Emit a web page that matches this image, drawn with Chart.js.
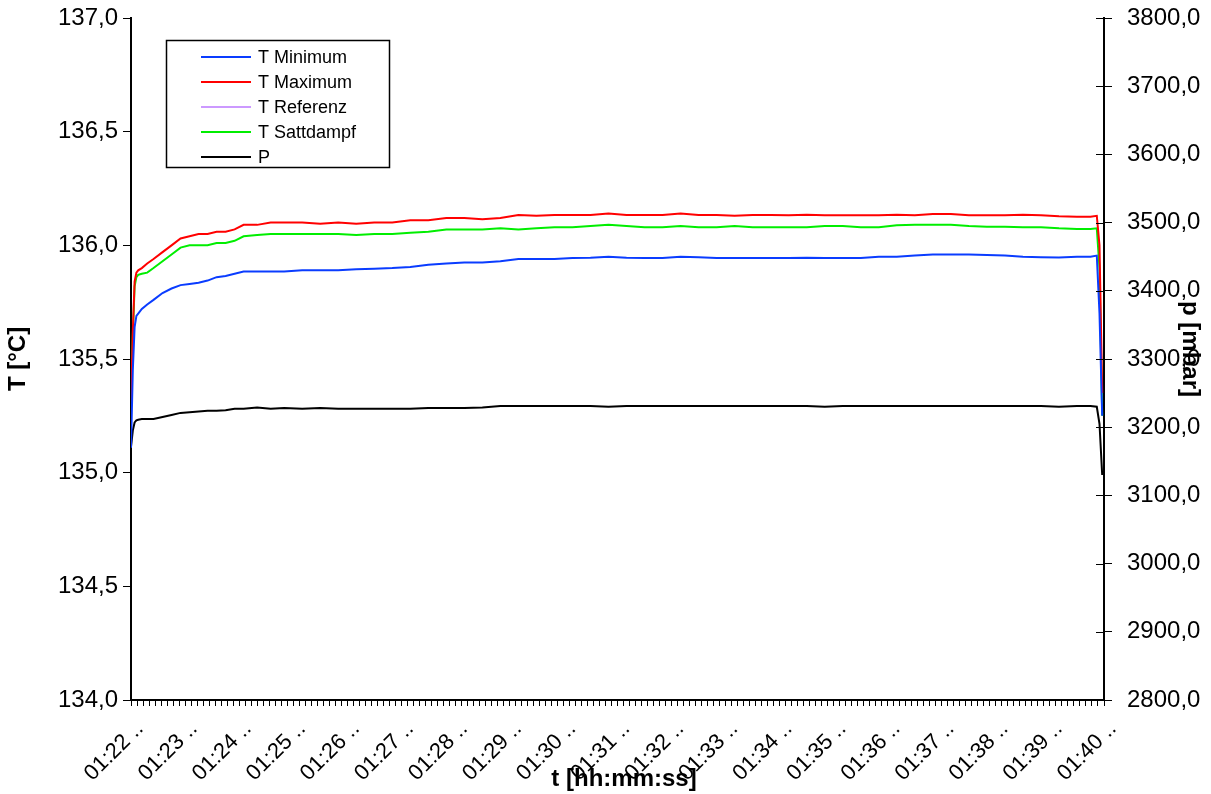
<!DOCTYPE html>
<html>
<head>
<meta charset="utf-8">
<title>Temperaturverlauf</title>
<script src="https://cdn.jsdelivr.net/npm/chart.js@4.4.1/dist/chart.umd.min.js"></script>
<style>
  html, body { margin: 0; padding: 0; background: #fff; }
  canvas { display: block; }
</style>
</head>
<body>
<canvas id="tempChart" width="1211" height="794"></canvas>
<script>
// seconds after 01:22:00
const seconds = [0, 2, 4, 6, 8, 12, 18, 25, 35, 45, 55, 65, 75, 85, 95, 105, 115, 125, 140, 155,
  170, 190, 210, 230, 250, 270, 290, 310, 330, 350, 370, 390, 410, 430, 450, 470, 490, 510, 530, 550,
  570, 590, 610, 630, 650, 670, 690, 710, 730, 750, 770, 790, 810, 830, 850, 870, 890, 910, 930, 950,
  970, 990, 1010, 1030, 1050, 1065, 1072, 1075, 1078];

const tMinimum = [135.11, 135.45, 135.64, 135.69, 135.70, 135.72, 135.74, 135.76, 135.79, 135.81,
  135.825, 135.83, 135.835, 135.845, 135.86, 135.865, 135.875, 135.885, 135.885, 135.885,
  135.885, 135.89, 135.89, 135.89, 135.895, 135.897, 135.90, 135.905, 135.915, 135.92,
  135.925, 135.925, 135.93, 135.94, 135.94, 135.94, 135.944, 135.945, 135.95, 135.945,
  135.944, 135.944, 135.95, 135.948, 135.944, 135.944, 135.944, 135.944, 135.944, 135.945,
  135.944, 135.944, 135.944, 135.95, 135.95, 135.955, 135.96, 135.96, 135.96, 135.958,
  135.955, 135.95, 135.948, 135.947, 135.95, 135.95, 135.955, 135.70, 135.25];

const tMaximum = [135.31, 135.62, 135.84, 135.88, 135.89, 135.90, 135.92, 135.94, 135.97, 136.00,
  136.03, 136.04, 136.05, 136.05, 136.06, 136.06, 136.07, 136.09, 136.09, 136.10,
  136.10, 136.10, 136.095, 136.10, 136.095, 136.10, 136.10, 136.11, 136.11, 136.12,
  136.12, 136.115, 136.12, 136.133, 136.13, 136.133, 136.133, 136.133, 136.14, 136.133,
  136.133, 136.133, 136.14, 136.133, 136.133, 136.13, 136.133, 136.133, 136.132, 136.135,
  136.132, 136.132, 136.132, 136.132, 136.135, 136.132, 136.138, 136.138, 136.132, 136.132,
  136.132, 136.135, 136.132, 136.128, 136.126, 136.126, 136.13, 136.00, 135.35];

const tReferenz = [];

const tSattdampf = [135.33, 135.60, 135.82, 135.86, 135.87, 135.875, 135.88, 135.90, 135.93, 135.96,
  135.99, 136.00, 136.00, 136.00, 136.01, 136.01, 136.02, 136.04, 136.045, 136.05,
  136.05, 136.05, 136.05, 136.05, 136.045, 136.05, 136.05, 136.055, 136.06, 136.07,
  136.07, 136.07, 136.075, 136.07, 136.075, 136.08, 136.08, 136.085, 136.09, 136.085,
  136.08, 136.08, 136.085, 136.08, 136.08, 136.085, 136.08, 136.08, 136.08, 136.08,
  136.085, 136.085, 136.08, 136.08, 136.088, 136.09, 136.09, 136.09, 136.085, 136.082,
  136.082, 136.08, 136.08, 136.075, 136.072, 136.072, 136.075, 135.90, 135.25];

const pressure = [3171, 3195, 3207, 3210, 3211, 3212, 3212, 3212, 3215, 3218,
  3221, 3222, 3223, 3224, 3224, 3225, 3227, 3227, 3229, 3227,
  3228, 3227, 3228, 3227, 3227, 3227, 3227, 3227, 3228, 3228,
  3228, 3229, 3231, 3231, 3231, 3231, 3231, 3231, 3230, 3231,
  3231, 3231, 3231, 3231, 3231, 3231, 3231, 3231, 3231, 3231,
  3230, 3231, 3231, 3231, 3231, 3231, 3231, 3231, 3231, 3231,
  3231, 3231, 3231, 3230, 3231, 3231, 3230, 3205, 3130];

const minuteLabels = ['01:22', '01:23', '01:24', '01:25', '01:26', '01:27', '01:28', '01:29', '01:30',
  '01:31', '01:32', '01:33', '01:34', '01:35', '01:36', '01:37', '01:38', '01:39', '01:40'];

const FONT = '"Liberation Sans", Arial, sans-serif';
const TICKS_PER_MINUTE = 9;

function series(values) {
  return values.map((v, i) => ({ x: seconds[i], y: v }));
}

function comma(v) {
  return v.toFixed(1).replace('.', ',');
}

const datasets = [
  { label: 'T Minimum', data: series(tMinimum), borderColor: '#0a3cff', yAxisID: 'y' },
  { label: 'T Maximum', data: series(tMaximum), borderColor: '#ff0000', yAxisID: 'y' },
  { label: 'T Referenz', data: series(tReferenz), borderColor: '#cc99ff', yAxisID: 'y' },
  { label: 'T Sattdampf', data: series(tSattdampf), borderColor: '#00ee00', yAxisID: 'y' },
  { label: 'P', data: series(pressure), borderColor: '#000000', yAxisID: 'y1' }
];
datasets.forEach(d => {
  d.borderWidth = 2;
  d.pointRadius = 0;
  d.tension = 0;
  d.fill = false;
});

// legend box, axis titles that sit over the tick labels, inner ticks on the p axis
const extras = {
  id: 'extras',
  afterDraw(chart) {
    const ctx = chart.ctx;
    const area = chart.chartArea;
    const yp = chart.scales.y1;
    ctx.save();
    ctx.strokeStyle = '#000';
    ctx.lineWidth = 1;
    yp.ticks.forEach(t => {
      const y = Math.round(yp.getPixelForValue(t.value)) + 0.5;
      ctx.beginPath();
      ctx.moveTo(area.right - 8, y);
      ctx.lineTo(area.right, y);
      ctx.stroke();
    });

    ctx.fillStyle = '#000';
    ctx.font = 'bold 24px ' + FONT;
    ctx.textAlign = 'center';
    ctx.textBaseline = 'middle';
    ctx.fillText('t [hh:mm:ss]', 624, 779);
    ctx.save();
    ctx.translate(1190, 349);
    ctx.rotate(Math.PI / 2);
    ctx.fillText('p [mbar]', 0, 0);
    ctx.restore();

    // legend
    const box = { x: 166.5, y: 40.5, w: 223, h: 127 };
    ctx.fillStyle = '#fff';
    ctx.fillRect(box.x, box.y, box.w, box.h);
    ctx.strokeStyle = '#000';
    ctx.lineWidth = 1.5;
    ctx.strokeRect(box.x, box.y, box.w, box.h);
    ctx.font = '18px ' + FONT;
    ctx.textAlign = 'left';
    chart.data.datasets.forEach((d, i) => {
      const y = 57 + i * 25;
      ctx.strokeStyle = d.borderColor;
      ctx.lineWidth = 2;
      ctx.beginPath();
      ctx.moveTo(201, y);
      ctx.lineTo(251, y);
      ctx.stroke();
      ctx.fillStyle = '#000';
      ctx.fillText(d.label, 258, y + 1);
    });
    ctx.restore();
  }
};

const axisGrid = { display: true, drawOnChartArea: false, drawTicks: true, tickLength: 8, color: '#000', lineWidth: 1 };
const axisBorder = { display: true, color: '#000', width: 2 };

// fixed box sizes so the plot area stays put regardless of label sizes
function fixWidth(w) {
  return scale => {
    scale.width = w;
    scale.paddingTop = 0;
    scale.paddingBottom = 0;
  };
}

new Chart(document.getElementById('tempChart'), {
  type: 'line',
  data: { datasets },
  plugins: [extras],
  options: {
    responsive: false,
    animation: false,
    devicePixelRatio: 1,
    layout: { padding: { top: 18, left: 0, right: 0, bottom: 0 } },
    plugins: {
      legend: { display: false },
      tooltip: { enabled: false }
    },
    scales: {
      x: {
        type: 'linear',
        min: 0,
        max: 1080,
        afterBuildTicks(scale) {
          const n = (minuteLabels.length - 1) * TICKS_PER_MINUTE;
          const ticks = [];
          for (let i = 0; i <= n; i++) ticks.push({ value: i * 60 / TICKS_PER_MINUTE });
          scale.ticks = ticks;
        },
        afterFit(scale) {
          scale.height = 94;
          scale.paddingLeft = 0;
          scale.paddingRight = 0;
        },
        grid: Object.assign({}, axisGrid, { tickLength: 6 }),
        border: axisBorder,
        ticks: {
          autoSkip: false,
          minRotation: 45,
          maxRotation: 45,
          padding: 10,
          labelOffset: 9,
          color: '#000',
          font: { family: FONT, size: 22 },
          callback(value, index) {
            if (index % TICKS_PER_MINUTE !== 0) return '';
            return minuteLabels[index / TICKS_PER_MINUTE] + ' ..';
          }
        }
      },
      y: {
        position: 'left',
        min: 134,
        max: 137,
        afterFit: fixWidth(131),
        grid: axisGrid,
        border: axisBorder,
        ticks: {
          stepSize: 0.5,
          padding: 5,
          color: '#000',
          font: { family: FONT, size: 24 },
          callback: v => comma(v)
        },
        title: {
          display: true,
          text: 'T [°C]',
          color: '#000',
          padding: { top: 4, bottom: 0 },
          font: { family: FONT, size: 24, weight: 'bold' }
        }
      },
      y1: {
        position: 'right',
        min: 2800,
        max: 3800,
        afterFit: fixWidth(107),
        grid: axisGrid,
        border: axisBorder,
        ticks: {
          stepSize: 100,
          padding: 15,
          color: '#000',
          font: { family: FONT, size: 24 },
          callback: v => comma(v)
        }
      }
    }
  }
});
</script>
</body>
</html>
